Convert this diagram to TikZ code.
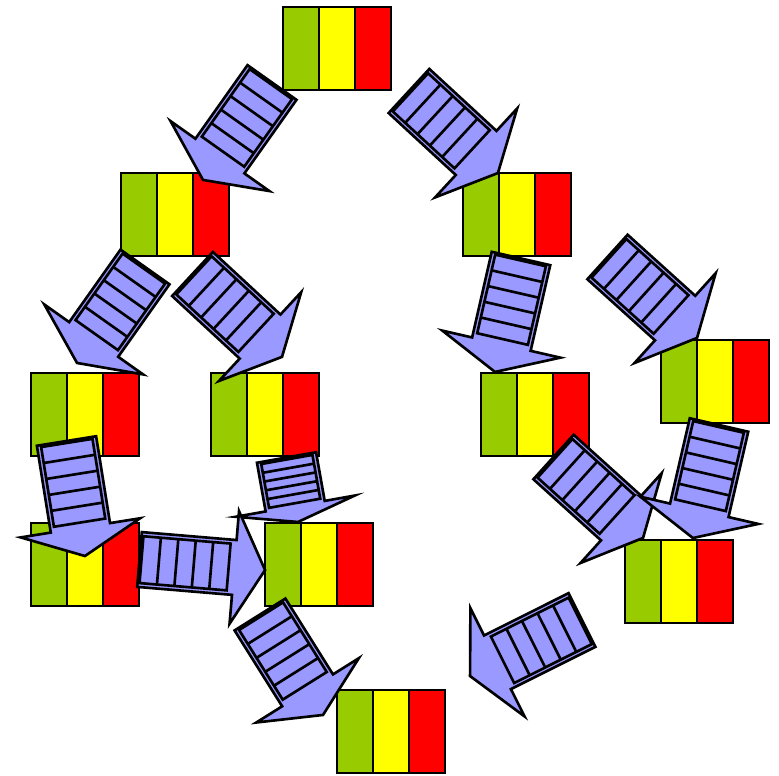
\documentclass[tikz,border=0pt]{standalone}
\usepackage{tikz}
\usetikzlibrary{calc}
\definecolor{flaggreen}{RGB}{153,204,0}
\definecolor{flagyellow}{RGB}{255,255,0}
\definecolor{flagred}{RGB}{255,0,0}
\definecolor{arrowblue}{RGB}{153,153,255}

% half widths of the arrow shaft and of the arrow head
\tikzset{
    ladder hw/.store in=\ladderhw, ladder hw=30,
    ladder hb/.store in=\ladderhb, ladder hb=60.5,
    arrowbody/.style={draw=black,fill=arrowblue,line width=1.5pt,line join=miter},
    flagbox/.style={draw,line width=1.2pt,fill=flagyellow,minimum width=2.16cm,minimum height=1.66cm,inner sep=0pt,
        path picture={
            \fill[flaggreen] (path picture bounding box.north west) rectangle ([xshift=0.72cm]path picture bounding box.south west);
            \fill[flagred] ([xshift=-0.72cm]path picture bounding box.north east) rectangle (path picture bounding box.south east);
            \draw[line width=1.2pt] ([xshift=0.72cm]path picture bounding box.north west) -- ([xshift=0.72cm]path picture bounding box.south west);
            \draw[line width=1.2pt] ([xshift=-0.72cm]path picture bounding box.north east) -- ([xshift=-0.72cm]path picture bounding box.south east);
        }},
    % block arrow with a ladder in its shaft, #1 = total length
    ladder arrow/.pic={
        \pgfmathsetmacro\shaftlen{0.755*#1}
        \pgfmathsetmacro\ladderend{0.71*#1}
        \pgfmathsetmacro\cell{(\ladderend-2)/5}
        \filldraw[arrowbody] (0,-\ladderhw) -- (\shaftlen,-\ladderhw) -- (\shaftlen,-\ladderhb) -- (#1,0)
            -- (\shaftlen,\ladderhb) -- (\shaftlen,\ladderhw) -- (0,\ladderhw) -- cycle;
        \draw[arrowbody] (2,-\ladderhw+4) rectangle (\ladderend,\ladderhw-4);
        \foreach \k in {1,...,4}
            \draw[line width=1.5pt] (2+\k*\cell,-\ladderhw+4) -- (2+\k*\cell,\ladderhw-4);
    }
}

\begin{document}
\begin{tikzpicture}[x=0.02cm,y=-0.02cm]
\useasboundingbox (0,0) rectangle (779,776);

% flags
\node[flagbox] (top) at (337,48.5) {};
\node[flagbox] (upleft) at (175,214.5) {};
\node[flagbox] (upright) at (517,214.5) {};
\node[flagbox] (midleft) at (85,414.5) {};
\node[flagbox] (midcentre) at (265,414.5) {};
\node[flagbox] (midright) at (535,414.5) {};
\node[flagbox] (farright) at (715,381.5) {};
\node[flagbox] (lowleft) at (85,564.5) {};
\node[flagbox] (lowcentre) at (319,564.5) {};
\node[flagbox] (lowright) at (679,581.5) {};
\node[flagbox] (bottom) at (391,731.5) {};

% ladder arrows: tail point, heading, length
\pic[rotate=-125.3] at (272,82.5) {ladder arrow=119.4};
\pic[rotate=-42.7] at (409,91) {ladder arrow=121};
\pic[rotate=-125.3] at (145,267) {ladder arrow=117.6};
\pic[rotate=-42.8] at (192.5,274) {ladder arrow=122};
\pic[rotate=-102.9] at (521,258.5) {ladder arrow=116.4};
\pic[rotate=-42.1] at (607.5,257) {ladder arrow=120.7};
\pic[rotate=-80.9] at (66.5,441) {ladder arrow=116.5};
\pic[rotate=-79.9] at (286.5,457.5) {ladder arrow=65.5};
\pic[rotate=-4.8,ladder hw=27.5,ladder hb=56.5] at (139.5,559.5) {ladder arrow=126};
\pic[rotate=-42.1] at (553.5,457) {ladder arrow=120.7};
\pic[rotate=-103] at (719,425) {ladder arrow=116};
\pic[rotate=-57.9] at (260,614.5) {ladder arrow=118.6};
\pic[rotate=-153.4] at (582,620) {ladder arrow=125.2};

\end{tikzpicture}
\end{document}
